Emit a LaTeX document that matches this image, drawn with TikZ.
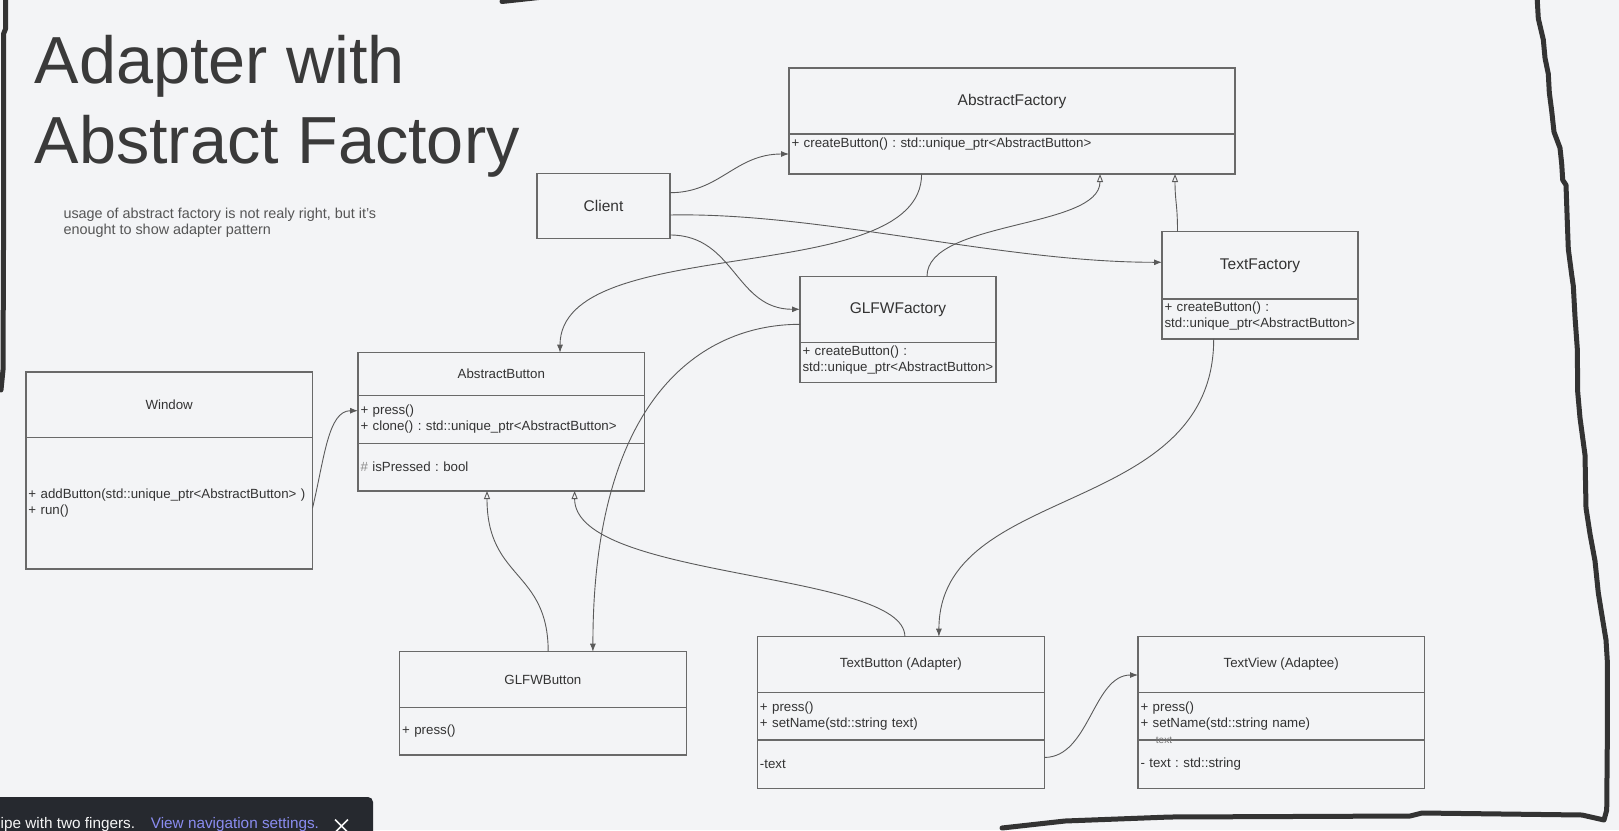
\documentclass[tikz,border=0pt]{standalone}
\usepackage{fontspec}
\setmainfont{Liberation Sans}
\usetikzlibrary{positioning}
\usetikzlibrary{calc}
\usetikzlibrary{arrows.meta}
\tikzset{>=latex}
\definecolor{paper}{RGB}{243,244,246}
\definecolor{inkline}{RGB}{90,90,90}
\definecolor{boxline}{RGB}{105,105,105}
\definecolor{umltext}{RGB}{51,51,51}
\definecolor{titlegray}{RGB}{58,58,58}
\definecolor{notegray}{RGB}{85,85,85}
\definecolor{penstroke}{RGB}{51,51,51}
\definecolor{toastbg}{RGB}{38,41,47}
\definecolor{toastlink}{RGB}{138,140,240}
\newcommand{\headfont}{\fontsize{15.5}{18}\selectfont}
\newcommand{\memberfont}{\fontsize{13.3}{16}\selectfont}
\tikzset{
  classhead/.style 2 args={draw=boxline, line width=1.1pt, minimum width=#1, minimum height=#2, inner sep=0pt, outer sep=0pt, text=umltext, font=\memberfont},
  classbody/.style 2 args={draw=boxline, line width=1.1pt, text width=#1, minimum height=#2, inner xsep=2.5pt, inner ysep=0pt, outer sep=0pt, align=left, text=umltext, font=\memberfont},
  assoc/.style={draw=inkline, line width=0.9pt, -{Latex[length=8pt,width=6pt]}},
  generalize/.style={draw=inkline, line width=0.9pt, -{Triangle[open,length=8pt,width=6pt]}},
  pen/.style={draw=penstroke, line width=5pt, line cap=round, line join=round},
}

\begin{document}
\frenchspacing
\begin{tikzpicture}[x=1pt, y=-1pt]
	\useasboundingbox (0,0) rectangle (1619,830);
	\fill[paper] (0,0) rectangle (1619,830);
	% hand drawn frame
	\draw[pen] (5.5,-4) -- (5.5,29) -- (3.5,34) -- (3.5,250) -- (3,370) -- (1,390);
	\draw[pen] (502,1.5) -- (548,-3.5);
	\draw[pen] (1537,-4) -- (1538.3,18.5) -- (1543.3,39.7) -- (1545,58) -- (1548.3,74) -- (1549.3,92.6) -- (1551.7,111) -- (1554,132) -- (1560,148) -- (1561.7,164) -- (1562.7,180) -- (1566,185) -- (1567.3,222) -- (1568.3,249) -- (1571.7,275) -- (1573.3,286) -- (1575,317) -- (1577.3,349) -- (1577.7,392) -- (1580,418) -- (1585,455) -- (1586,508) -- (1590,534) -- (1595,561) -- (1598.3,593) -- (1601.7,614) -- (1606,640) -- (1607.3,661) -- (1607.3,741) -- (1606.7,810) -- (1604,820) -- (1582,815) -- (1422,813) -- (1410,816) -- (1170,817) -- (1065,821) -- (1002,828);

	\node[anchor=base west, inner sep=0pt, text=titlegray, font=\fontsize{66.6}{80}\selectfont] (titleA) at (34.5,83.3) {Adapter with};
	\node[anchor=base west, inner sep=0pt, text=titlegray, font=\fontsize{66.6}{80}\selectfont] (titleB) at ([yshift=-80pt]titleA.base west) {Abstract Factory};
	\node[anchor=base west, inner sep=0pt, text=notegray, font=\fontsize{14.4}{16}\selectfont] (noteA) at (63.3,218.3) {usage of abstract factory is not realy right, but it's};
	\node[anchor=base west, inner sep=0pt, text=notegray, font=\fontsize{14.4}{16}\selectfont] (noteB) at ([yshift=-16.3pt]noteA.base west) {enought to show adapter pattern};

	% factories
	\node[classhead={446pt}{66pt}, font=\headfont] (afHead) at (1012,101) {AbstractFactory};
	\node[classbody={441pt}{40pt}, below=0pt of afHead, text height=9.7pt, text depth=22.5pt] (afOps) {+ createButton() : std::unique\_ptr<AbstractButton>};
	\node[classhead={133pt}{65.7pt}, font=\headfont] (client) at (603.5,206) {Client};
	\node[classhead={196pt}{67.3pt}, font=\headfont] (tfHead) at (1260,265.3) {TextFactory};
	\node[classbody={191pt}{40pt}, below=0pt of tfHead, text depth=24pt] (tfOps) {+ createButton() :\\std::unique\_ptr<AbstractButton>};
	\node[classhead={196pt}{66pt}, font=\headfont] (gfHead) at (898,309.3) {GLFWFactory};
	\node[classbody={191pt}{40pt}, below=0pt of gfHead, text depth=24pt] (gfOps) {+ createButton() :\\std::unique\_ptr<AbstractButton>};

	% buttons
	\node[classhead={286.6pt}{42.6pt}] (abHead) at (501.3,374) {AbstractButton};
	\node[classbody={281.6pt}{48pt}, below=0pt of abHead] (abOps) {+ press()\\+ clone() : std::unique\_ptr<AbstractButton>};
	\node[classbody={281.6pt}{47.7pt}, below=0pt of abOps] (abAttr) {{\color{notegray!70}\#} isPressed : bool};
	\node[classhead={286.5pt}{65.7pt}] (winHead) at (169.2,404.8) {Window};
	\node[classbody={281.5pt}{131.3pt}, below=0pt of winHead] (winOps) {+ addButton(std::unique\_ptr<AbstractButton> )\\+ run()};
	\node[classhead={286.6pt}{55.6pt}] (gbHead) at (542.9,679.5) {GLFWButton};
	\node[classbody={281.6pt}{47.7pt}, below=0pt of gbHead] (gbOps) {+ press()};
	\node[classhead={287pt}{55.6pt}] (tbHead) at (900.9,664.5) {TextButton (Adapter)};
	\node[classbody={282pt}{47.7pt}, below=0pt of tbHead] (tbOps) {+ press()\\+ setName(std::string text)};
	\node[classbody={282pt}{48.3pt}, below=0pt of tbOps] (tbAttr) {-text};
	\node[classhead={286.4pt}{55.6pt}] (tvHead) at (1281.2,664.5) {TextView (Adaptee)};
	\node[classbody={281.4pt}{47.7pt}, below=0pt of tvHead] (tvOps) {+ press()\\+ setName(std::string name)};
	\node[classbody={281.4pt}{48.3pt}, below=0pt of tvOps] (tvAttr) {- text : std::string};
	\node[inner sep=0pt, text=notegray!80, font=\fontsize{10}{12}\selectfont] (tvNote) at ([xshift=26pt]tvOps.south west) {text};

	% connectors
	\draw[assoc] ([yshift=13.3pt]client.east) .. controls +(50,0) and ($(afOps.west)+(-54,0)$) .. (afOps.west);
	\draw[assoc] ([yshift=-9pt]client.east) .. controls +(150,-3) and ($([yshift=3pt]tfHead.west)+(-162,0)$) .. ([yshift=3pt]tfHead.west);
	\draw[assoc] ([yshift=-29pt]client.east) .. controls +(65,0) and ($(gfHead.west)+(-65,0)$) .. (gfHead.west);
	\draw[assoc] ([xshift=-90.4pt]afOps.south) .. controls +(0,116) and ($([xshift=58.7pt]abHead.north)+(0,-122)$) .. ([xshift=58.7pt]abHead.north);
	\draw[generalize] ([xshift=29pt]gfHead.north) .. controls +(0,-56) and ($([xshift=88pt]afOps.south)+(0,55)$) .. ([xshift=88pt]afOps.south);
	\draw[generalize] ([xshift=-82.5pt]tfHead.north) .. controls +(0,-28) and ($([xshift=163pt]afOps.south)+(0,28)$) .. ([xshift=163pt]afOps.south);
	\draw[assoc] ([yshift=-15pt]gfHead.west) .. controls +(-100,0) and ($([xshift=50pt]gbHead.north)+(0,-252)$) .. ([xshift=50pt]gbHead.north);
	\draw[assoc] ([xshift=-46.3pt]tfOps.south) .. controls +(0,180) and ($([xshift=38pt]tbHead.north)+(0,-155)$) .. ([xshift=38pt]tbHead.north);
	\draw[generalize] ([xshift=5.3pt]gbHead.north) .. controls +(0,-82) and ($([xshift=-14.3pt]abAttr.south)+(0,89)$) .. ([xshift=-14.3pt]abAttr.south);
	\draw[generalize] ([xshift=4pt]tbHead.north) .. controls +(0,-66) and ($([xshift=73.3pt]abAttr.south)+(0,89)$) .. ([xshift=73.3pt]abAttr.south);
	\draw[assoc] ([yshift=-5pt]winOps.east) .. controls +(12,-50) and ($([yshift=8.6pt]abOps.west)+(-30,0)$) .. ([yshift=8.6pt]abOps.west);
	\draw[assoc] ([yshift=6.7pt]tbAttr.east) .. controls +(45,0) and ($([yshift=-10.5pt]tvHead.west)+(-45,0)$) .. ([yshift=-10.5pt]tvHead.west);

	% toast
	\fill[toastbg] (-10,845) -- (-10,797) [rounded corners=5pt] -- (373,797) -- (373,845) -- cycle;
	\node[anchor=base west, inner sep=0pt, text=white!92!gray, font=\fontsize{15.3}{18}\selectfont] (swipeHint) at (0.5,828) {ipe with two fingers.};
	\node[anchor=base west, inner sep=0pt, text=toastlink, font=\fontsize{15.3}{18}\selectfont] (navLink) at (150.7,828) {View navigation settings.};
	\draw[white!92!gray, line width=1.5pt] (335,819.5) -- (348,832.5) (348,819.5) -- (335,832.5);
\end{tikzpicture}
\end{document}
